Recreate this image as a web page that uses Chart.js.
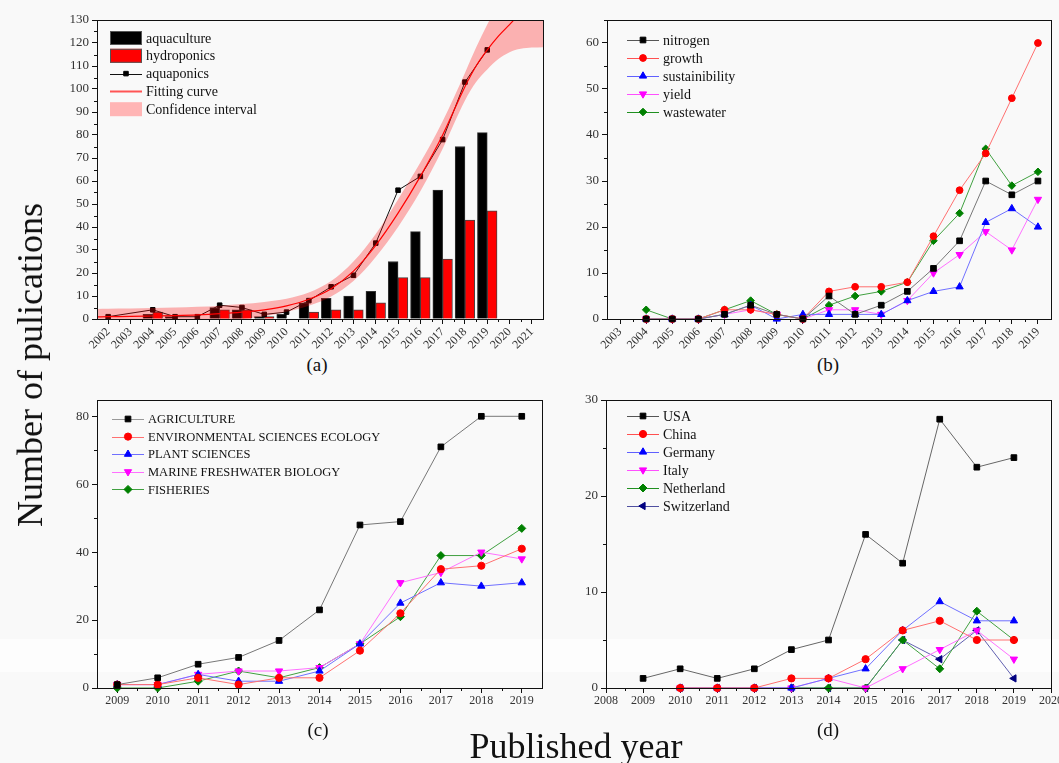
<!DOCTYPE html>
<html>
<head>
<meta charset="utf-8">
<script src="https://cdn.jsdelivr.net/npm/chart.js@4.4.1/dist/chart.umd.min.js"></script>
<style>
    body { margin: 0; width: 1059px; height: 763px; background: #f9f9f9; position: relative; overflow: hidden; font-family: 'Liberation Serif', serif; }
    canvas { position: absolute; }
    .lbl { position: absolute; color: #111; white-space: nowrap; line-height: 1; }
    .band { position: absolute; left: 0; width: 1059px; background: #fdfdfd; }
</style>
</head>
<body>
<div class="band" style="top:639px;height:33px"></div>
<canvas id="chartA" width="515" height="342" style="left:40px;top:8px"></canvas>
<canvas id="chartB" width="499" height="342" style="left:560px;top:8px"></canvas>
<canvas id="chartC" width="515" height="330" style="left:40px;top:390px"></canvas>
<canvas id="chartD" width="499" height="330" style="left:560px;top:390px"></canvas>
<div class="lbl" style="left:317px;top:364px;font-size:19px;transform:translate(-50%,-50%)">(a)</div>
<div class="lbl" style="left:828px;top:364px;font-size:19px;transform:translate(-50%,-50%)">(b)</div>
<div class="lbl" style="left:318px;top:729px;font-size:19px;transform:translate(-50%,-50%)">(c)</div>
<div class="lbl" style="left:828px;top:729px;font-size:19px;transform:translate(-50%,-50%)">(d)</div>
<div class="lbl" style="left:30px;top:365px;font-size:36px;transform:translate(-50%,-50%) rotate(-90deg)">Number of pulications</div>
<div class="lbl" style="left:576px;top:746px;font-size:36px;transform:translate(-50%,-50%)">Published year</div>
<script>
// panel (a)
const yearsA = [2002, 2003, 2004, 2005, 2006, 2007, 2008, 2009, 2010, 2011,
    2012, 2013, 2014, 2015, 2016, 2017, 2018, 2019, 2020, 2021];
const aquaculture = [0, null, 2, 1, 0, 5, 4, 1, 2, 7, 9, 10, 12, 25, 38, 56, 75, 81, null, null];
const hydroponics = [0, null, 3, 0, 0, 4, 4, 1, 0, 3, 4, 4, 7, 18, 18, 26, 43, 47, null, null];
const aquaponics = [1, null, 4, 1, 1, 6, 5, 2, 3, 8, 14, 19, 33, 56, 62, 78, 103, 117, null, null];
const fitX = [2001.5, 2002, 2003, 2004, 2005, 2006, 2007, 2008, 2009, 2010, 2011, 2012, 2013,
    2014, 2015, 2016, 2017, 2018, 2018.5, 2019, 2019.5, 2020, 2020.5, 2021, 2021.5];
const fitCurve = [0.9, 1.0, 1.1, 1.3, 1.5, 1.8, 2.3, 3.0, 4.0, 5.7, 8.6, 13.2, 20.8,
    32, 46, 62, 80, 101, 110, 117, 123, 128, 133, 137, 140];
const fitLower = [-2.6, -2.5, -2.4, -2.2, -1.9, -1.5, -0.9, -0.1, 1.2, 3.2, 5.8, 9.8, 16.5,
    27, 40, 55.5, 74, 95, 103, 108.5, 113, 116, 117.5, 118, 118.2];
const fitUpper = [4.4, 4.5, 4.6, 4.8, 5.0, 5.3, 5.8, 6.5, 7.4, 8.8, 11.5, 16.5, 25,
    37, 52, 68, 86, 107, 118, 128, 137, 145, 152, 158, 163];

// panel (b)
const ticksB = [2003, 2004, 2005, 2006, 2007, 2008, 2009, 2010, 2011, 2012, 2013, 2014, 2015, 2016, 2017, 2018, 2019];
const yearsB = [2004, 2005, 2006, 2007, 2008, 2009, 2010, 2011, 2012, 2013, 2014, 2015, 2016, 2017, 2018, 2019];
const nitrogen = [0, 0, 0, 1, 3, 1, 0, 5, 1, 3, 6, 11, 17, 30, 27, 30];
const growth = [0, 0, 0, 2, 2, 1, 0, 6, 7, 7, 8, 18, 28, 36, 48, 60];
const sustainability = [0, 0, 0, 1, 3, 0, 1, 1, 1, 1, 4, 6, 7, 21, 24, 20];
const yieldB = [0, 0, 0, 1, 2, 1, 0, 2, 2, 1, 4, 10, 14, 19, 15, 26];
const wastewater = [2, 0, 0, 2, 4, 1, 0, 3, 5, 6, 8, 17, 23, 37, 29, 32];

// panel (c)
const yearsC = [2009, 2010, 2011, 2012, 2013, 2014, 2015, 2016, 2017, 2018, 2019];
const agriculture = [1, 3, 7, 9, 14, 23, 48, 49, 71, 80, 80];
const envSciences = [1, 1, 3, 1, 3, 3, 11, 22, 35, 36, 41];
const plantSciences = [1, 1, 4, 2, 2, 5, 13, 25, 31, 30, 31];
const marineBiology = [1, 1, 4, 5, 5, 6, 13, 31, 34, 40, 38];
const fisheries = [0, 0, 2, 5, 3, 6, 13, 21, 39, 39, 47];

// panel (d)
const ticksD = [2008, 2009, 2010, 2011, 2012, 2013, 2014, 2015, 2016, 2017, 2018, 2019, 2020];
const yearsD = [2009, 2010, 2011, 2012, 2013, 2014, 2015, 2016, 2017, 2018, 2019];
const usa = [1, 2, 1, 2, 4, 5, 16, 13, 28, 23, 24];
const china = [null, 0, 0, 0, 1, 1, 3, 6, 7, 5, 5];
const germany = [null, 0, 0, 0, 0, 1, 2, 6, 9, 7, 7];
const italy = [null, 0, 0, 0, 0, 1, 0, 2, 4, 6, 3];
const netherland = [null, 0, 0, 0, 0, 0, 0, 5, 2, 8, 5];
const switzerland = [null, 0, 0, 0, 0, 0, 0, 5, 3, 6, 1];

const FONT = "'Liberation Serif', serif";
Chart.defaults.font.family = FONT;
Chart.defaults.color = '#222';
Chart.defaults.animation = false;

function xy(xs, ys) {
    return xs.map((x, i) => ({ x: x, y: ys[i] })).filter(p => p.y !== null);
}

function range(a, b, step) {
    const out = [];
    for (let v = a; v <= b + 1e-9; v += step) out.push(v);
    return out;
}

// frame round the plot + small minor ticks
const framePlugin = {
    id: 'frame',
    afterDatasetsDraw(chart, args, opts) {
        const ctx = chart.ctx;
        const a = chart.chartArea;
        ctx.save();
        ctx.strokeStyle = '#111';
        ctx.lineWidth = 1;
        ctx.strokeRect(a.left + 0.5, a.top + 0.5, a.right - a.left, a.bottom - a.top);
        const xs = chart.scales.x;
        const ys = chart.scales.y;
        ctx.beginPath();
        (opts.xMinor || []).forEach(v => {
            const px = Math.round(xs.getPixelForValue(v)) + 0.5;
            ctx.moveTo(px, a.bottom);
            ctx.lineTo(px, a.bottom + 3);
        });
        (opts.yMinor || []).forEach(v => {
            const py = Math.round(ys.getPixelForValue(v)) + 0.5;
            ctx.moveTo(a.left, py);
            ctx.lineTo(a.left - 3, py);
        });
        ctx.stroke();
        ctx.restore();
    }
};

// legend drawn inside the plot area
const legendPlugin = {
    id: 'insideLegend',
    afterDraw(chart, args, opts) {
        if (!opts.items) return;
        const ctx = chart.ctx;
        const a = chart.chartArea;
        ctx.save();
        ctx.font = opts.font;
        ctx.textBaseline = 'middle';
        opts.items.forEach((it, i) => {
            const x = a.left + opts.x;
            const y = a.top + opts.y + i * opts.step;
            if (it.box) {
                ctx.fillStyle = it.box;
                ctx.fillRect(x, y - 7, 32, 14);
                if (it.boxBorder) {
                    ctx.strokeStyle = it.boxBorder;
                    ctx.lineWidth = 1;
                    ctx.strokeRect(x + 0.5, y - 6.5, 31, 13);
                }
            }
            if (it.line) {
                ctx.strokeStyle = it.line;
                ctx.lineWidth = it.lineWidth || 1;
                ctx.beginPath();
                ctx.moveTo(x, Math.round(y) + 0.5);
                ctx.lineTo(x + 32, Math.round(y) + 0.5);
                ctx.stroke();
            }
            if (it.point) {
                ctx.fillStyle = it.pointColor;
                ctx.strokeStyle = it.pointColor;
                ctx.lineWidth = 1;
                Chart.helpers.drawPoint(ctx, { pointStyle: it.point, rotation: it.rotation || 0, radius: it.radius, borderWidth: 1 }, x + 16, y);
            }
            ctx.fillStyle = '#111';
            ctx.fillText(it.text, x + 36, y + 1);
        });
        ctx.restore();
    }
};

function lineSet(label, xs, ys, color, lineColor, style, radius, rotation) {
    return {
        type: 'line',
        label: label,
        data: xy(xs, ys),
        borderColor: lineColor,
        borderWidth: 1,
        backgroundColor: color,
        pointBackgroundColor: color,
        pointBorderColor: color,
        pointBorderWidth: 1,
        pointStyle: style,
        pointRadius: radius,
        pointRotation: rotation || 0,
        tension: 0,
        clip: false
    };
}

// axes: fixed sizes so every plot box lands where it is in the figure
function makeScales(xMin, xMax, xTicks, rotate, xHeight, yMax, yStep, yWidth) {
    return {
        x: {
            type: 'linear',
            min: xMin,
            max: xMax,
            offset: false,
            afterBuildTicks: s => { s.ticks = xTicks.map(v => ({ value: v })); },
            afterFit: s => { s.height = xHeight; s.paddingLeft = 0; s.paddingRight = 0; },
            ticks: {
                autoSkip: false,
                minRotation: rotate,
                maxRotation: rotate,
                padding: 1,
                font: { size: 12 },
                color: '#333',
                callback: v => String(v)
            },
            grid: { offset: false, drawOnChartArea: false, drawTicks: true, tickLength: 5, color: '#111' },
            border: { display: true, color: '#111' }
        },
        y: {
            min: 0,
            max: yMax,
            afterBuildTicks: s => { s.ticks = range(0, yMax, yStep).map(v => ({ value: v })); },
            afterFit: s => { s.width = yWidth; s.paddingTop = 0; s.paddingBottom = 0; },
            ticks: { padding: 3, font: { size: 13 }, color: '#333' },
            grid: { drawOnChartArea: false, drawTicks: true, tickLength: 5, color: '#111' },
            border: { display: true, color: '#111' }
        }
    };
}

// (a) bars + aquaponics + fitted curve
new Chart(document.getElementById('chartA'), {
    type: 'line',
    data: {
        datasets: [
            {
                type: 'line', label: 'Fitting curve',
                data: xy(fitX, fitCurve), borderColor: '#ff0000', borderWidth: 1.2,
                pointRadius: 0, cubicInterpolationMode: 'monotone', order: 0
            },
            {
                type: 'line', label: 'upper',
                data: xy(fitX, fitUpper), borderWidth: 0, pointRadius: 0,
                cubicInterpolationMode: 'monotone',
                fill: { target: 2 }, backgroundColor: 'rgba(255, 0, 0, 0.29)', order: 1
            },
            {
                type: 'line', label: 'lower',
                data: xy(fitX, fitLower), borderWidth: 0, pointRadius: 0,
                cubicInterpolationMode: 'monotone', fill: false, order: 1
            },
            {
                type: 'line', label: 'aquaponics', data: xy(yearsA, aquaponics),
                borderColor: '#111', borderWidth: 1, pointStyle: 'rect', pointRadius: 3.2,
                pointBackgroundColor: '#000', pointBorderColor: '#000', clip: false, order: 2
            },
            {
                type: 'bar', label: 'aquaculture', data: xy(yearsA, aquaculture), backgroundColor: '#000',
                borderColor: '#333', borderWidth: 1, barThickness: 9.8, order: 3
            },
            {
                type: 'bar', label: 'hydroponics', data: xy(yearsA, hydroponics), backgroundColor: '#ff0000',
                borderColor: '#444', borderWidth: 1, barThickness: 9.8, order: 3
            }
        ]
    },
    options: {
        responsive: false,
        layout: { padding: { top: 12, right: 12, left: 0, bottom: 0 } },
        plugins: {
            legend: { display: false },
            tooltip: { enabled: false },
            frame: { xMinor: range(2002.5, 2020.5, 1), yMinor: range(5, 125, 10) },
            insideLegend: {
                x: 13, y: 18, step: 17.8, font: "14px " + FONT,
                items: [
                    { text: 'aquaculture', box: '#000', boxBorder: '#555' },
                    { text: 'hydroponics', box: '#ff0000', boxBorder: '#555' },
                    { text: 'aquaponics', line: '#111', point: 'rect', pointColor: '#000', radius: 3.2 },
                    { text: 'Fitting curve', line: '#ff5555', lineWidth: 2 },
                    { text: 'Confidence interval', box: '#ffb5b5' }
                ]
            }
        },
        scales: makeScales(2001.5, 2021.5, yearsA, 45, 31, 130, 10, 57)
    },
    plugins: [framePlugin, legendPlugin]
});

// (b) keywords
new Chart(document.getElementById('chartB'), {
    type: 'line',
    data: {
        datasets: [
            lineSet('nitrogen', yearsB, nitrogen, '#000', '#777', 'rect', 4),
            lineSet('growth', yearsB, growth, '#ff0000', '#ff7070', 'circle', 3.4),
            lineSet('sustainability', yearsB, sustainability, '#0000ff', '#7070ff', 'triangle', 4.2),
            lineSet('yield', yearsB, yieldB, '#ff00ff', '#ff70ff', 'triangle', 4.2, 180),
            lineSet('wastewater', yearsB, wastewater, '#008000', '#40a040', 'rectRot', 3.8)
        ]
    },
    options: {
        responsive: false,
        layout: { padding: { top: 12, right: 8, left: 0, bottom: 0 } },
        plugins: {
            legend: { display: false },
            tooltip: { enabled: false },
            frame: { xMinor: range(2003.5, 2018.5, 1), yMinor: range(5, 65, 10) },
            insideLegend: {
                x: 20, y: 20, step: 18, font: "14px " + FONT,
                items: [
                    { text: 'nitrogen', line: '#555', point: 'rect', pointColor: '#000', radius: 4 },
                    { text: 'growth', line: '#ff5050', point: 'circle', pointColor: '#ff0000', radius: 3.4 },
                    { text: 'sustainibility', line: '#6060ff', point: 'triangle', pointColor: '#0000ff', radius: 4.2 },
                    { text: 'yield', line: '#ff50ff', point: 'triangle', rotation: 180, pointColor: '#ff00ff', radius: 4.2 },
                    { text: 'wastewater', line: '#209020', point: 'rectRot', pointColor: '#008000', radius: 3.8 }
                ]
            }
        },
        scales: makeScales(2002.5, 2019.5, ticksB, 45, 31, 65, 10, 47)
    },
    plugins: [framePlugin, legendPlugin]
});

// (c) research areas
new Chart(document.getElementById('chartC'), {
    type: 'line',
    data: {
        datasets: [
            lineSet('AGRICULTURE', yearsC, agriculture, '#000', '#777', 'rect', 4),
            lineSet('ENVIRONMENTAL SCIENCES ECOLOGY', yearsC, envSciences, '#ff0000', '#ff7070', 'circle', 3.6),
            lineSet('PLANT SCIENCES', yearsC, plantSciences, '#0000ff', '#7070ff', 'triangle', 4.2),
            lineSet('MARINE FRESHWATER BIOLOGY', yearsC, marineBiology, '#ff00ff', '#ff70ff', 'triangle', 4.2, 180),
            lineSet('FISHERIES', yearsC, fisheries, '#008000', '#40a040', 'rectRot', 4)
        ]
    },
    options: {
        responsive: false,
        layout: { padding: { top: 10, right: 13, left: 0, bottom: 0 } },
        plugins: {
            legend: { display: false },
            tooltip: { enabled: false },
            frame: { xMinor: range(2009.5, 2018.5, 1), yMinor: range(10, 70, 20) },
            insideLegend: {
                x: 15, y: 19, step: 17.6, font: "12.5px " + FONT,
                items: [
                    { text: 'AGRICULTURE', line: '#999', point: 'rect', pointColor: '#000', radius: 4 },
                    { text: 'ENVIRONMENTAL SCIENCES ECOLOGY', line: '#ff7070', point: 'circle', pointColor: '#ff0000', radius: 3.6 },
                    { text: 'PLANT SCIENCES', line: '#7070ff', point: 'triangle', pointColor: '#0000ff', radius: 4.2 },
                    { text: 'MARINE FRESHWATER BIOLOGY', line: '#ff70ff', point: 'triangle', rotation: 180, pointColor: '#ff00ff', radius: 4.2 },
                    { text: 'FISHERIES', line: '#40a040', point: 'rectRot', pointColor: '#008000', radius: 4 }
                ]
            }
        },
        scales: makeScales(2008.5, 2019.5, yearsC, 0, 32, 84.8, 20, 57)
    },
    plugins: [framePlugin, legendPlugin]
});

// (d) countries
new Chart(document.getElementById('chartD'), {
    type: 'line',
    data: {
        datasets: [
            lineSet('USA', yearsD, usa, '#000', '#666', 'rect', 4),
            lineSet('China', yearsD, china, '#ff0000', '#ff7070', 'circle', 3.6),
            lineSet('Germany', yearsD, germany, '#0000ff', '#7070ff', 'triangle', 4.2),
            lineSet('Italy', yearsD, italy, '#ff00ff', '#ff70ff', 'triangle', 4.2, 180),
            lineSet('Netherland', yearsD, netherland, '#008000', '#40a040', 'rectRot', 4),
            lineSet('Switzerland', yearsD, switzerland, '#000080', '#6060b0', 'triangle', 4.2, 270)
        ]
    },
    options: {
        responsive: false,
        layout: { padding: { top: 10, right: 8, left: 0, bottom: 0 } },
        plugins: {
            legend: { display: false },
            tooltip: { enabled: false },
            frame: { xMinor: range(2008.5, 2019.5, 1), yMinor: range(5, 25, 10) },
            insideLegend: {
                x: 21, y: 16, step: 18, font: "14px " + FONT,
                items: [
                    { text: 'USA', line: '#555', point: 'rect', pointColor: '#000', radius: 4 },
                    { text: 'China', line: '#ff5050', point: 'circle', pointColor: '#ff0000', radius: 3.6 },
                    { text: 'Germany', line: '#6060ff', point: 'triangle', pointColor: '#0000ff', radius: 4.2 },
                    { text: 'Italy', line: '#ff50ff', point: 'triangle', rotation: 180, pointColor: '#ff00ff', radius: 4.2 },
                    { text: 'Netherland', line: '#209020', point: 'rectRot', pointColor: '#008000', radius: 4 },
                    { text: 'Switzerland', line: '#5050a0', point: 'triangle', rotation: 270, pointColor: '#000080', radius: 4.2 }
                ]
            }
        },
        scales: makeScales(2008, 2020, ticksD, 0, 32, 30, 10, 46)
    },
    plugins: [framePlugin, legendPlugin]
});
</script>
</body>
</html>
